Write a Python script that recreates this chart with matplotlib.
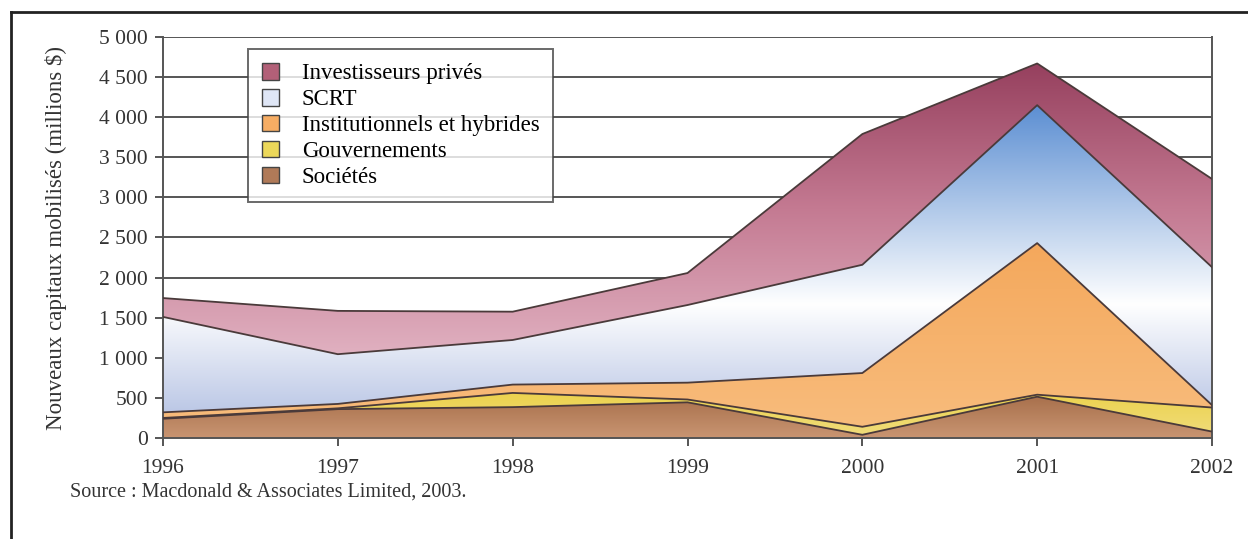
import numpy as np
import matplotlib
matplotlib.use('Agg')
import matplotlib.pyplot as plt
from matplotlib.colors import LinearSegmentedColormap
from matplotlib.patches import Patch
from matplotlib.lines import Line2D

# Data (millions $)
years = [1996, 1997, 1998, 1999, 2000, 2001, 2002]
societes = [240, 360, 385, 445, 40, 515, 80]
gouvernements = [10, 10, 177, 35, 100, 25, 300]
institutionnels = [70, 55, 104, 210, 670, 1890, 30]
scrt = [1190, 620, 556, 968, 1350, 1720, 1720]
prives = [235, 540, 353, 399, 1630, 520, 1100]

labels = ['Sociétés', 'Gouvernements', 'Institutionnels et hybrides', 'SCRT', 'Investisseurs privés']
yticks = [0, 500, 1000, 1500, 2000, 2500, 3000, 3500, 4000, 4500, 5000]
ytick_labels = ['0', '500', '1 000', '1 500', '2 000', '2 500', '3 000', '3 500', '4 000', '4 500', '5 000']

plt.rcParams['font.family'] = 'Liberation Serif'

# gradients (bottom -> top)
cmaps = [
    LinearSegmentedColormap.from_list('soc', ['#c99572', '#a8704c']),
    LinearSegmentedColormap.from_list('gov', ['#f0dc7a', '#ecd24e']),
    LinearSegmentedColormap.from_list('inst', ['#f8bc7c', '#f4a85c']),
    LinearSegmentedColormap.from_list('scrt', [(0, '#bcc8e6'), (0.35, '#ffffff'), (1, '#5b8ed2')]),
    LinearSegmentedColormap.from_list('priv', ['#e0b0c0', '#c47a92', '#96405e']),
]
legend_colors = ['#b07a58', '#ecd85a', '#f6ad64', '#dfe6f6', '#b26078']

fig = plt.figure(figsize=(12.48, 5.39), dpi=100)
ax = fig.add_axes([163 / 1248, 1 - 438 / 539, 1049 / 1248, 401 / 539])

series = [societes, gouvernements, institutionnels, scrt, prives]
x = np.array(years, dtype=float)
lower = np.zeros(len(years))
grad = np.linspace(0, 1, 256).reshape(-1, 1)
for i, s in enumerate(series):
    upper = lower + np.array(s, dtype=float)
    poly = ax.fill_between(x, lower, upper, facecolor='none', edgecolor='none', zorder=2)
    ymin, ymax = lower.min(), upper.max()
    im = ax.imshow(grad, extent=[x[0], x[-1], ymin, ymax], origin='lower', aspect='auto',
                   cmap=cmaps[i], zorder=2, interpolation='bilinear')
    im.set_clip_path(poly.get_paths()[0], transform=ax.transData)
    ax.plot(x, upper, color='#4a3a3a', lw=1.3, zorder=3)
    lower = upper

ax.set_xlim(1996, 2002)
ax.set_ylim(0, 5000)
ax.set_yticks(yticks)
ax.set_yticklabels(ytick_labels)
ax.set_xticks(years)
ax.yaxis.grid(True, color='#555555', lw=1.4, zorder=1)
ax.set_axisbelow(True)
for sp in ['left', 'bottom', 'right']:
    ax.spines[sp].set_color('#555555')
    ax.spines[sp].set_linewidth(1.4)
ax.spines['top'].set_visible(False)
ax.tick_params(axis='both', labelsize=15.5, colors='#555555', labelcolor='#333333', width=1.4, length=6)
ax.tick_params(axis='x', pad=9)
ax.tick_params(axis='y', pad=5)
ax.set_ylabel('Nouveaux capitaux mobilisés (millions $)', fontsize=16.5, color='#333333', labelpad=23)

handles = [Patch(facecolor=legend_colors[i], edgecolor='#444444', label=labels[i]) for i in range(5)][::-1]
leg = ax.legend(handles=handles, loc='upper left', bbox_to_anchor=(85 / 1049, 1 - 12 / 401),
                fontsize=16.5, frameon=True, fancybox=False, edgecolor='#444444',
                handlelength=0.75, handleheight=0.75, labelspacing=0.2, borderpad=0.6,
                handletextpad=1.0, borderaxespad=0)
leg.get_frame().set_linewidth(1.4)
leg.set_zorder(5)

fig.text(70 / 1248, 1 - 492 / 539, 'Source : Macdonald & Associates Limited, 2003.',
         fontsize=14.5, color='#333333', va='center')

# outer frame (left and top)
fig.add_artist(Line2D([11 / 1248, 11 / 1248], [0, 1 - 12 / 539], color='#222222', lw=2))
fig.add_artist(Line2D([11 / 1248, 1], [1 - 12 / 539, 1 - 12 / 539], color='#222222', lw=2))

fig.savefig('out.png', dpi=100)
